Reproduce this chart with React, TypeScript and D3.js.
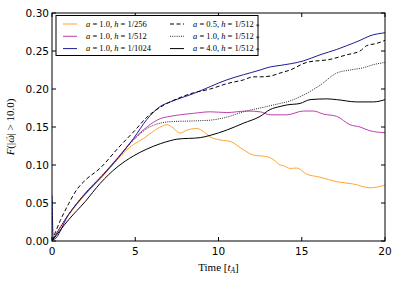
import React from "react";
import * as d3 from "d3";

// values (t in t_A, F fraction)
const tOrange = [0, 1, 2, 3, 4, 4.4, 4.9, 5.5, 6.0, 6.6, 6.9, 7.2, 7.7, 8.1, 8.7, 9.1, 9.5, 10.1, 10.7, 11.5, 12.1, 12.9, 13.3, 13.7, 13.9, 14.3, 14.7, 15.3, 16.1, 17.1, 18.1, 19.1, 20];
const fOrange = [0, 0.034, 0.061, 0.084, 0.109, 0.118, 0.127, 0.135, 0.143, 0.151, 0.153, 0.150, 0.142, 0.146, 0.148, 0.144, 0.137, 0.133, 0.131, 0.120, 0.113, 0.111, 0.107, 0.100, 0.099, 0.0955, 0.096, 0.088, 0.084, 0.078, 0.075, 0.070, 0.0735];

const tMagenta = [0, 1, 2, 3, 4, 4.9, 5.7, 6.5, 7.1, 8.5, 9.5, 10.5, 11.7, 12.5, 13.1, 13.7, 14.1, 15.1, 15.7, 16.3, 17.1, 17.9, 18.5, 19.1, 20];
const fMagenta = [0, 0.035, 0.063, 0.086, 0.111, 0.134, 0.150, 0.161, 0.164, 0.168, 0.170, 0.169, 0.171, 0.170, 0.166, 0.166, 0.166, 0.171, 0.171, 0.167, 0.164, 0.153, 0.150, 0.145, 0.1425];

const tBlue = [0, 0.08, 1, 2, 3, 4, 4.9, 5.7, 6.5, 7.1, 8.5, 10.5, 12.5, 13.1, 13.7, 15.1, 16.1, 17.1, 17.7, 18.5, 19.1, 20];
const fBlue = [0.06, 0.002, 0.035, 0.062, 0.085, 0.110, 0.135, 0.160, 0.177, 0.183, 0.194, 0.212, 0.225, 0.229, 0.231, 0.237, 0.245, 0.252, 0.257, 0.264, 0.270, 0.274];

const tDash = [0, 0.5, 1, 1.5, 2, 2.9, 4, 5, 5.7, 6.5, 7.5, 8.5, 9.5, 10.5, 11.5, 12.1, 12.5, 13.1, 13.7, 14.3, 15.3, 16.7, 17.7, 18.5, 18.9, 19.5, 20];
const fDash = [0, 0.027, 0.049, 0.068, 0.08, 0.096, 0.123, 0.146, 0.163, 0.176, 0.187, 0.195, 0.200, 0.207, 0.212, 0.216, 0.216, 0.217, 0.221, 0.225, 0.235, 0.239, 0.245, 0.250, 0.257, 0.260, 0.264];

const tDot = [0, 1, 2, 3, 4, 4.9, 5.7, 6.5, 7.1, 8.5, 9.5, 10.5, 11.5, 12.5, 13.1, 13.7, 14.1, 15.1, 16.1, 17.1, 17.9, 18.7, 19.3, 20];
const fDot = [0, 0.035, 0.063, 0.086, 0.110, 0.133, 0.148, 0.155, 0.157, 0.158, 0.159, 0.163, 0.170, 0.175, 0.178, 0.181, 0.183, 0.192, 0.205, 0.221, 0.225, 0.228, 0.232, 0.235];

const tSolid = [0, 1, 2, 2.9, 3.9, 4.9, 5.7, 6.5, 7.1, 7.5, 8.9, 9.5, 10.5, 11.5, 12.5, 13.1, 13.7, 14.1, 14.9, 15.5, 16.5, 17.1, 18.3, 19.3, 20];
const fSolid = [0, 0.028, 0.052, 0.076, 0.097, 0.112, 0.121, 0.128, 0.132, 0.134, 0.136, 0.139, 0.146, 0.155, 0.164, 0.173, 0.177, 0.179, 0.181, 0.186, 0.187, 0.186, 0.183, 0.183, 0.186];

const xTicks = [0, 5, 10, 15, 20];
const yTicks = [0, 0.05, 0.1, 0.15, 0.2, 0.25, 0.3];

type Series = { t: number[]; f: number[]; color: string; dash: string | null; a: string; h: string; mark: boolean };

const series: Series[] = [
  { t: tOrange, f: fOrange, color: "#ffa534", dash: null, a: "1.0", h: "1/256", mark: false },
  { t: tMagenta, f: fMagenta, color: "#bf3fb0", dash: null, a: "1.0", h: "1/512", mark: false },
  { t: tBlue, f: fBlue, color: "#1c1c96", dash: null, a: "1.0", h: "1/1024", mark: false },
  { t: tDash, f: fDash, color: "#000000", dash: "4,2.5", a: "0.5", h: "1/512", mark: true },
  { t: tDot, f: fDot, color: "#222222", dash: "1,1.2", a: "1.0", h: "1/512", mark: true },
  { t: tSolid, f: fSolid, color: "#000000", dash: null, a: "4.0", h: "1/512", mark: true },
];

const W = 399;
const H = 283;
const margin = { top: 13, right: 14, bottom: 42, left: 52 };

export default function App() {
  const iw = W - margin.left - margin.right;
  const ih = H - margin.top - margin.bottom;
  const x = d3.scaleLinear().domain([0, 20]).range([0, iw]);
  const y = d3.scaleLinear().domain([0, 0.3]).range([ih, 0]);

  const lineGen = (s: Series) =>
    d3
      .line<number>()
      .x((_, i) => x(s.t[i]))
      .y((d) => y(d))
      .curve(d3.curveMonotoneX)(s.f) || "";

  const tickFont = "DejaVu Sans";
  const serif = "Liberation Serif";

  // legend: two columns of three
  const legend = series.map((s, i) => ({
    s,
    lx: i < 3 ? 7 : 114,
    ty: 11 + (i % 3) * 12.3,
  }));

  return (
    <svg width={W} height={H} style={{ position: "absolute", left: 0, top: 0 }}>
      <rect width={W} height={H} fill="#fff" />
      <g transform={`translate(${margin.left},${margin.top})`}>
        <defs>
          <clipPath id="plotclip">
            <rect x={0} y={0} width={iw} height={ih} />
          </clipPath>
        </defs>
        <g clipPath="url(#plotclip)">
          {series.map((s, i) => (
            <path
              key={i}
              d={lineGen(s)}
              fill="none"
              stroke={s.color}
              strokeWidth={1}
              strokeDasharray={s.dash || undefined}
            />
          ))}
        </g>
        {/* ticks all four sides, pointing inward */}
        {xTicks.map((t) => (
          <g key={"x" + t}>
            <line x1={x(t)} x2={x(t)} y1={ih} y2={ih - 4} stroke="#000" />
            <line x1={x(t)} x2={x(t)} y1={0} y2={4} stroke="#000" />
            <text x={x(t)} y={ih + 14} textAnchor="middle" fontFamily={tickFont} fontSize={10.5}>
              {t}
            </text>
          </g>
        ))}
        {yTicks.map((v) => (
          <g key={"y" + v}>
            <line x1={0} x2={4} y1={y(v)} y2={y(v)} stroke="#000" />
            <line x1={iw} x2={iw - 4} y1={y(v)} y2={y(v)} stroke="#000" />
            <text x={-3} y={y(v)} dy="0.36em" textAnchor="end" fontFamily={tickFont} fontSize={10.5}>
              {d3.format(".2f")(v)}
            </text>
          </g>
        ))}
        <rect x={0} y={0} width={iw} height={ih} fill="none" stroke="#000" strokeWidth={1} />

        {/* legend */}
        <g transform="translate(4,2.5)">
          <rect x={0} y={0} width={202} height={40} fill="#fff" stroke="#000" strokeWidth={1} />
          {legend.map(({ s, lx, ty }, i) => (
            <g key={i}>
              <line
                x1={lx}
                x2={lx + 14}
                y1={ty - 2.5}
                y2={ty - 2.5}
                stroke={s.color}
                strokeWidth={1}
                strokeDasharray={s.dash || undefined}
              />
              <text x={lx + 23} y={ty} fontFamily={serif} fontSize={8.5}>
                <tspan fontStyle="italic">a</tspan>
                {" = " + s.a + ", "}
                <tspan fontStyle="italic">h</tspan>
                {" = " + s.h}
                {s.mark ? <tspan fontFamily="DejaVu Sans" fontSize={6}>{" \u22C4"}</tspan> : null}
              </text>
            </g>
          ))}
        </g>
      </g>

      {/* axis labels */}
      <text
        transform={`translate(14,${margin.top + ih / 2}) rotate(-90)`}
        textAnchor="middle"
        fontFamily={serif}
        fontSize={11}
      >
        <tspan fontStyle="italic">F</tspan>
        {"(|"}
        <tspan fontStyle="italic">{"\u03C9"}</tspan>
        <tspan fontSize={6} dx={-6.5} dy={-6}>
          {"\u2192"}
        </tspan>
        <tspan dy={6}>{"| > 10.0)"}</tspan>
      </text>
      <text x={margin.left + iw / 2} y={271} textAnchor="middle" fontFamily={serif} fontSize={11}>
        {"Time ["}
        <tspan fontStyle="italic">t</tspan>
        <tspan fontStyle="italic" fontSize={7.5} dy={2}>
          A
        </tspan>
        <tspan dy={-2}>]</tspan>
      </text>
    </svg>
  );
}
